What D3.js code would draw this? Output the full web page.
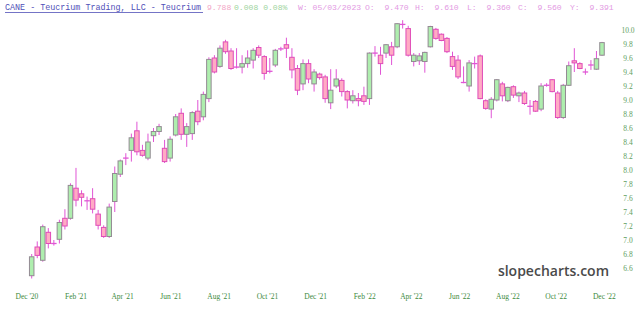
<!DOCTYPE html>
<html>
<head>
<meta charset="utf-8">
<script src="https://cdn.jsdelivr.net/npm/d3@7"></script>
<style>
  body { margin: 0; background: #fff; }
  svg { display: block; }
</style>
</head>
<body>
<svg id="chart" width="640" height="311"></svg>
<script>
// weekly bars, Dec '20 -> Dec '22
const firstWeek = "2020-12-07";
const opens = [6.49,6.90,6.71,7.11,6.96,7.01,7.31,7.31,7.74,7.66,7.57,7.59,7.37,7.18,7.05,7.55,7.94,8.18,8.28,8.56,
  8.28,8.17,8.49,8.55,8.31,8.17,8.50,8.81,8.51,8.52,8.84,8.76,9.02,9.60,9.48,9.83,9.70,9.49,9.47,9.52,
  9.57,9.75,9.62,9.42,9.50,9.73,9.79,9.61,9.45,9.23,9.52,9.23,9.37,9.33,8.96,9.20,9.28,9.12,8.99,9.02,
  9.06,9.02,9.68,9.64,9.67,9.76,9.76,10.09,10.02,9.55,9.56,9.55,9.76,10.01,9.94,9.88,9.62,9.57,9.27,9.20,
  9.53,9.63,8.99,8.87,9.00,9.23,8.99,9.19,9.06,9.10,8.92,8.98,8.87,9.21,9.29,9.10,8.75,9.21,9.56,9.52,
  9.41,9.50,9.44,9.64];
const highs = [6.80,6.98,7.22,7.17,7.00,7.29,7.44,7.81,8.03,7.71,7.62,7.74,7.43,7.21,7.52,8.05,8.15,8.24,8.52,8.69,
  8.36,8.52,8.60,8.66,8.43,8.48,8.80,8.88,8.67,8.84,9.00,9.12,9.61,9.64,9.78,9.86,9.74,9.74,9.64,9.71,
  9.74,9.78,9.64,9.60,9.73,9.76,9.89,9.74,9.50,9.58,9.58,9.44,9.39,9.36,9.44,9.44,9.31,9.14,9.14,9.10,
  9.19,9.68,9.77,9.76,9.80,9.83,10.10,10.14,10.06,9.67,9.67,9.69,10.06,10.03,9.95,9.90,9.69,9.64,9.48,9.57,
  9.62,9.65,9.01,9.04,9.30,9.26,9.19,9.21,9.12,9.13,9.00,9.00,9.24,9.24,9.30,9.13,9.23,9.55,9.74,9.54,
  9.45,9.57,9.70,9.83];
const lows = [6.45,6.74,6.69,6.88,6.92,6.95,7.15,7.29,7.48,7.48,7.43,7.38,7.15,7.03,7.03,7.40,7.90,8.07,8.12,8.21,
  8.19,8.14,8.40,8.50,8.10,8.12,8.48,8.43,8.33,8.43,8.64,8.71,8.97,9.38,9.46,9.66,9.43,9.45,9.38,9.46,
  9.45,9.60,9.29,9.38,9.47,9.70,9.60,9.31,9.07,9.14,9.24,9.12,9.29,8.96,8.87,9.17,9.05,8.88,8.95,8.91,
  8.93,8.93,9.62,9.36,9.60,9.50,9.74,10.02,9.62,9.48,9.50,9.39,9.75,9.86,9.84,9.67,9.43,9.30,9.24,9.12,
  9.45,9.01,8.86,8.74,8.98,8.98,8.97,9.03,8.97,8.93,8.79,8.83,8.84,9.19,9.11,8.73,8.73,9.20,9.40,9.44,
  9.36,9.43,9.43,9.63];
const closes = [6.76,6.78,7.19,6.95,6.95,7.25,7.20,7.78,7.57,7.61,7.56,7.44,7.21,7.05,7.47,7.95,8.13,8.17,8.46,8.26,
  8.21,8.40,8.55,8.62,8.12,8.44,8.76,8.51,8.62,8.82,8.69,9.08,9.58,9.40,9.74,9.69,9.45,9.47,9.52,9.60,
  9.71,9.64,9.38,9.41,9.71,9.73,9.74,9.43,9.14,9.52,9.30,9.40,9.32,9.02,9.14,9.30,9.12,9.00,9.06,8.99,
  8.98,9.67,9.67,9.52,9.79,9.64,10.09,10.08,9.64,9.64,9.63,9.68,10.05,9.88,9.85,9.69,9.48,9.33,9.25,9.53,
  9.52,9.02,8.88,9.01,9.29,9.06,9.18,9.07,9.10,8.95,8.91,8.84,9.20,9.21,9.12,8.75,9.21,9.49,9.53,9.45,
  9.40,9.50,9.59,9.82];

const yTicks = [6.6,6.8,7.0,7.2,7.4,7.6,7.8,8.0,8.2,8.4,8.6,8.8,9.0,9.2,9.4,9.6,9.8,10.0];
const xTickMonths = ["2020-12-01","2021-02-01","2021-04-01","2021-06-01","2021-08-01","2021-10-01",
  "2021-12-01","2022-02-01","2022-04-01","2022-06-01","2022-08-01","2022-10-01","2022-12-01"];

const titleText = "CANE - Teucrium Trading, LLC - Teucrium";
const lastText = "9.788";
const chgText = "0.008 0.08%";
const infoParts = [["W:", "05/03/2023"], ["O:", "9.470"], ["H:", "9.610"], ["L:", "9.360"], ["C:", "9.560"], ["Y:", "9.391"]];

const parse = d3.timeParse("%Y-%m-%d");
const start = parse(firstWeek);
const dates = d3.timeMonday.range(start, d3.timeWeek.offset(start, opens.length));
const bars = dates.map((d, i) => ({ date: d, o: opens[i], h: highs[i], l: lows[i], c: closes[i] }));

const svg = d3.select("#chart");

const x = d3.scaleTime()
  .domain([dates[0], dates[dates.length - 1]])
  .range([31.7, 602]);
const y = d3.scaleLinear().domain([6.6, 10.0]).range([268, 30]);

const bw = 4.5;
const wickCol = "#e055d5";

const g = svg.append("g");

// wicks
g.selectAll("line.wick").data(bars).join("line")
  .attr("class", "wick")
  .attr("x1", d => x(d.date)).attr("x2", d => x(d.date))
  .attr("y1", d => y(d.h)).attr("y2", d => y(d.l))
  .attr("stroke", wickCol).attr("stroke-width", 1);

// bodies
g.selectAll("rect.body").data(bars.filter(d => Math.abs(d.o - d.c) >= 0.02)).join("rect")
  .attr("class", "body")
  .attr("x", d => x(d.date) - bw / 2)
  .attr("width", bw)
  .attr("y", d => y(Math.max(d.o, d.c)))
  .attr("height", d => Math.abs(y(d.o) - y(d.c)))
  .attr("fill", d => d.c > d.o ? "#aeeeae" : "#ffabc4")
  .attr("stroke", d => d.c > d.o ? "#938a93" : "#e04cb8")
  .attr("stroke-width", 1);

// flat bars
g.selectAll("line.flat").data(bars.filter(d => Math.abs(d.o - d.c) < 0.02)).join("line")
  .attr("class", "flat")
  .attr("x1", d => x(d.date) - bw / 2 - 0.5).attr("x2", d => x(d.date) + bw / 2 + 0.5)
  .attr("y1", d => y(d.c)).attr("y2", d => y(d.c))
  .attr("stroke", wickCol).attr("stroke-width", 1.3);

// y axis labels
svg.append("g").selectAll("text").data(yTicks).join("text")
  .attr("x", 628).attr("y", d => y(d) + 2.5)
  .attr("text-anchor", "middle")
  .attr("font-family", "Liberation Serif, serif")
  .attr("font-size", 7.5)
  .attr("fill", "#5e9e5e")
  .text(d => d.toFixed(1));

// x axis labels
const fmt = d3.timeFormat("%b '%y");
svg.append("g").selectAll("text").data(xTickMonths.map(parse)).join("text")
  .attr("x", d => x(d)).attr("y", 299)
  .attr("text-anchor", "middle")
  .attr("font-family", "Liberation Serif, serif")
  .attr("font-size", 7.5)
  .attr("fill", "#3d8a3d")
  .text(d => fmt(d));

// watermark
svg.append("text")
  .attr("x", 609).attr("y", 276)
  .attr("text-anchor", "end")
  .attr("font-family", "Open Sans, sans-serif")
  .attr("font-weight", 600)
  .attr("font-size", 14)
  .attr("fill", "#4a4a4a")
  .text("slopecharts.com");

// header
const hdr = svg.append("g")
  .attr("font-family", "Liberation Mono, monospace")
  .attr("font-size", 8.1);
hdr.append("text").attr("x", 5).attr("y", 10).attr("font-size", 8.4)
  .attr("fill", "#5050b8").text(titleText);
hdr.append("line").attr("x1", 5).attr("x2", 203).attr("y1", 12.5).attr("y2", 12.5)
  .attr("stroke", "#5050b8").attr("stroke-width", 0.8);
hdr.append("text").attr("x", 207).attr("y", 10).attr("fill", "#f2a6c6").text(lastText);
hdr.append("text").attr("x", 234).attr("y", 10).attr("fill", "#9ed49e")
  .style("white-space", "pre").text(chgText);
const infoX = [298, 365, 415, 467, 518, 570];
infoParts.forEach((p, i) => {
  hdr.append("text").attr("x", infoX[i]).attr("y", 10).attr("fill", "#e39ae3")
    .style("white-space", "pre")
    .text(p[0] + (i === 0 ? " " : "  ") + p[1]);
});
</script>
</body>
</html>
